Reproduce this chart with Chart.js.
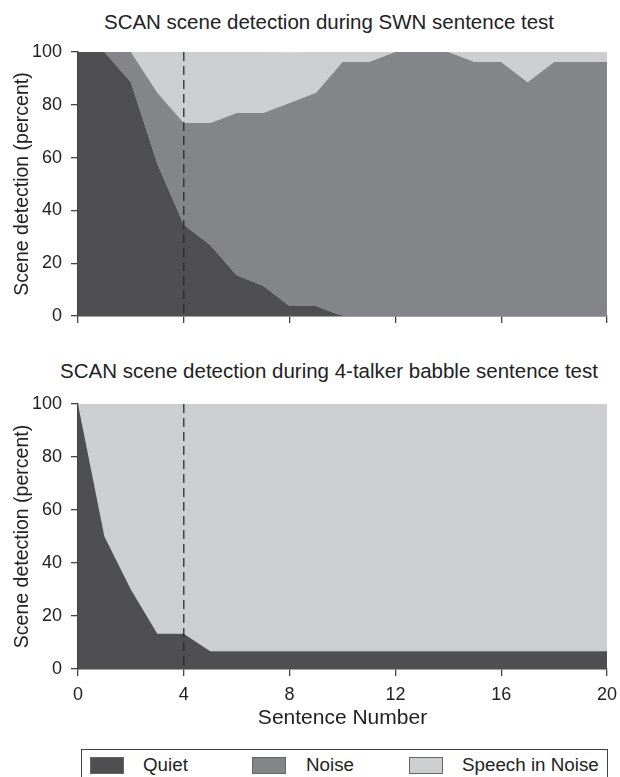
<!DOCTYPE html>
<html>
<head>
<meta charset="utf-8">
<script src="https://cdn.jsdelivr.net/npm/chart.js@4"></script>
<style>
  body { margin: 0; background: #fff; width: 620px; height: 777px; position: relative; overflow: hidden;
         font-family: "Liberation Sans", Arial, sans-serif; color: #222; }
  #topWrap { position: absolute; left: 0; top: 0; width: 620px; height: 340px; }
  #botWrap { position: absolute; left: 0; top: 340px; width: 620px; height: 400px; }
  .title { position: absolute; left: 0; width: 658px; text-align: center; font-size: 20.5px; line-height: 24px;
           white-space: nowrap; }
  #legend { position: absolute; left: 81px; top: 749px; width: 527px; height: 40px; border: 1px solid #444;
            box-sizing: border-box; font-size: 18.8px; }
  .sw { position: absolute; top: 7px; width: 34px; height: 17px; border: 1px solid #666; box-sizing: border-box; }
  .lab { position: absolute; top: 3px; line-height: 24px; white-space: nowrap; }
</style>
</head>
<body>
<div class="title" style="top:9.5px">SCAN scene detection during SWN sentence test</div>
<div class="title" style="top:359px">SCAN scene detection during 4-talker babble sentence test</div>
<div id="topWrap"><canvas id="chartTop" width="620" height="340"></canvas></div>
<div id="botWrap"><canvas id="chartBottom" width="620" height="400"></canvas></div>
<div id="legend">
  <div class="sw" style="left:8px;background:#4f4f51"></div><div class="lab" style="left:61px">Quiet</div>
  <div class="sw" style="left:170px;background:#848589"></div><div class="lab" style="left:224px">Noise</div>
  <div class="sw" style="left:327px;background:#cdced0"></div><div class="lab" style="left:380px">Speech in Noise</div>
</div>
<script>
const sentences = [0, 1, 2, 3, 4, 5, 6, 7, 8, 9, 10, 11, 12, 13, 14, 15, 16, 17, 18, 19, 20];

// SWN sentence test (percent of sentences)
const swnQuiet = [100, 100, 88.5, 57.7, 34.6, 26.9, 15.4, 11.5, 3.8, 3.8, 0, 0, 0, 0, 0, 0, 0, 0, 0, 0, 0];
const swnNoise = [0, 0, 11.5, 26.9, 38.5, 46.2, 61.5, 65.4, 76.9, 80.8, 96.2, 96.2, 100, 100, 100, 96.2, 96.2, 88.5, 96.2, 96.2, 96.2];
const swnSpeech = [0, 0, 0, 15.4, 26.9, 26.9, 23.1, 23.1, 19.2, 15.4, 3.8, 3.8, 0, 0, 0, 3.8, 3.8, 11.5, 3.8, 3.8, 3.8];

// 4-talker babble sentence test
const babbleQuiet = [100, 50, 30, 13.3, 13.3, 6.7, 6.7, 6.7, 6.7, 6.7, 6.7, 6.7, 6.7, 6.7, 6.7, 6.7, 6.7, 6.7, 6.7, 6.7, 6.7];
const babbleNoise = [0, 0, 0, 0, 0, 0, 0, 0, 0, 0, 0, 0, 0, 0, 0, 0, 0, 0, 0, 0, 0];
const babbleSpeech = [0, 50, 70, 86.7, 86.7, 93.3, 93.3, 93.3, 93.3, 93.3, 93.3, 93.3, 93.3, 93.3, 93.3, 93.3, 93.3, 93.3, 93.3, 93.3, 93.3];

const xTicks = [0, 4, 8, 12, 16, 20];
const markerSentence = 4;

const FONT = "'Liberation Sans', Arial, sans-serif";
const TEXT = "#222";
const AXIS = "#444";

const dashedLine = {
  id: "dashedLine",
  afterDatasetsDraw(chart) {
    const { ctx, chartArea } = chart;
    const x = chart.scales.x.getPixelForValue(markerSentence);
    ctx.save();
    ctx.strokeStyle = "#2a2a2a";
    ctx.lineWidth = 1.3;
    ctx.setLineDash([9, 5]);
    ctx.beginPath();
    ctx.moveTo(x, chartArea.top);
    ctx.lineTo(x, chartArea.bottom);
    ctx.stroke();
    ctx.restore();
  },
};

const toPoints = (arr) => arr.map((v, i) => ({ x: sentences[i], y: v }));

function makeChart(id, quiet, noise, speech, opts) {
  const ctx = document.getElementById(id).getContext("2d");
  return new Chart(ctx, {
    type: "line",
    data: {
      datasets: [
        { label: "Quiet", data: toPoints(quiet), fill: "origin", backgroundColor: "#4f4f51" },
        { label: "Noise", data: toPoints(noise), fill: "-1", backgroundColor: "#848589" },
        { label: "Speech in Noise", data: toPoints(speech), fill: "-1", backgroundColor: "#cdced0" },
      ].map((d) => ({ ...d, borderWidth: 0, pointRadius: 0, tension: 0, borderColor: "rgba(0,0,0,0)" })),
    },
    options: {
      responsive: false,
      animation: false,
      layout: { padding: { left: 0, right: 13, top: opts.topPad, bottom: 0 } },
      scales: {
        x: {
          type: "linear",
          min: 0,
          max: 20,
          afterBuildTicks: (s) => { s.ticks = xTicks.map((v) => ({ value: v })); },
          afterFit: (s) => {
            s.height = opts.xHeight;
            s.paddingLeft = 0;
            s.paddingRight = 0;
          },
          ticks: {
            display: opts.showX,
            padding: 8,
            color: TEXT,
            font: { family: FONT, size: 18 },
            maxRotation: 0,
          },
          grid: { drawOnChartArea: false, drawTicks: true, tickLength: 7, color: AXIS, lineWidth: 1.3 },
          border: { display: true, color: AXIS, width: 1.5 },
          title: {
            display: opts.showX,
            text: "Sentence Number",
            color: TEXT,
            font: { family: FONT, size: 21 },
            padding: { top: 0, bottom: 9.4 },
          },
        },
        y: {
          stacked: true,
          min: 0,
          max: 100,
          afterFit: (s) => { s.width = 78; },
          ticks: { stepSize: 20, padding: 9, color: TEXT, font: { family: FONT, size: 18 } },
          grid: { drawOnChartArea: false, drawTicks: true, tickLength: 7, color: AXIS, lineWidth: 1.3 },
          border: { display: true, color: AXIS, width: 1.5 },
          title: {
            display: true,
            text: "Scene detection (percent)",
            color: TEXT,
            font: { family: FONT, size: 19.5 },
            padding: { top: 11.3, bottom: 0 },
          },
        },
      },
      plugins: {
        legend: { display: false },
        tooltip: { enabled: false },
        title: { display: false },
      },
    },
    plugins: [dashedLine],
  });
}

makeChart("chartTop", swnQuiet, swnNoise, swnSpeech, { showX: false, xHeight: 24, topPad: 52 });
makeChart("chartBottom", babbleQuiet, babbleNoise, babbleSpeech, { showX: true, xHeight: 71, topPad: 64 });
</script>
</body>
</html>
